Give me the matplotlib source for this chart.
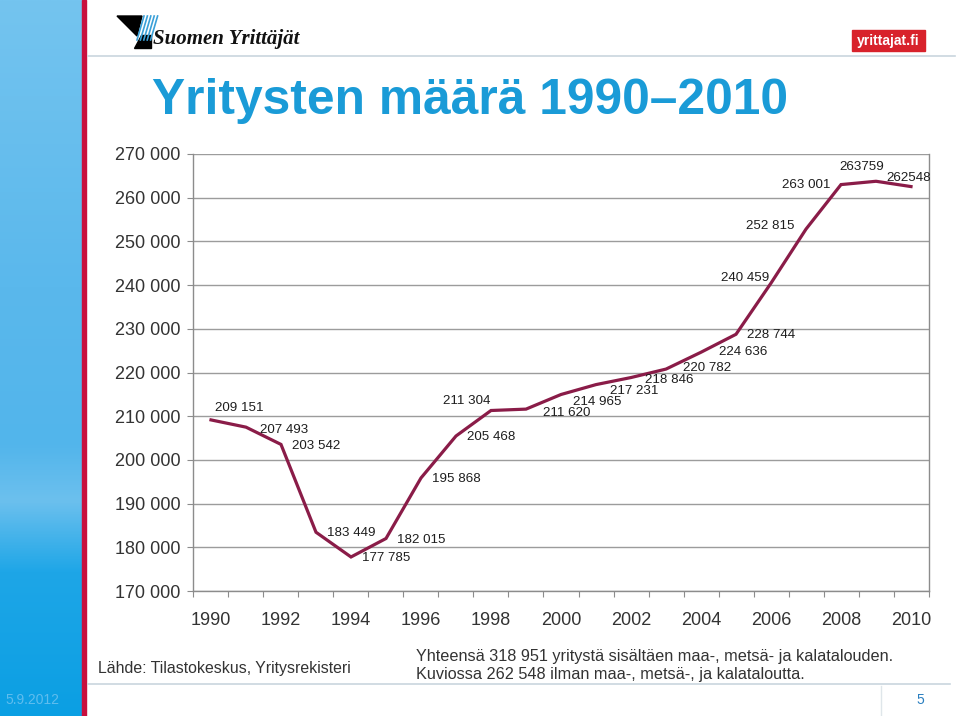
import numpy as np
import matplotlib
matplotlib.use("Agg")
import matplotlib.pyplot as plt
from matplotlib.patches import Polygon, Rectangle
from matplotlib.colors import LinearSegmentedColormap

# ---- data ----
years = list(range(1990, 2011))
values = [209151, 207493, 203542, 183449, 177785, 182015, 195868, 205468,
          211304, 211620, 214965, 217231, 218846, 220782, 224636, 228744,
          240459, 252815, 263001, 263759, 262548]
labels = ["209 151", "207 493", "203 542", "183 449", "177 785", "182 015",
          "195 868", "205 468", "211 304", "211 620", "214 965", "217 231",
          "218 846", "220 782", "224 636", "228 744", "240 459", "252 815",
          "263 001", "263759", "262548"]
# label offsets in pixels (dx, dy up positive)
offsets = [(28, 12), (38, -3), (35, -2), (35, -1), (35, -1), (35, -2),
           (35, -1), (35, -1), (-24, 10), (41, -3.5), (36, -7), (38, -6.5),
           (38, -2.5), (41, 1), (42, 0), (35, -1), (-26, 5), (-36, 3),
           (-35, 0), (-14, 14), (-2, 9)]
ytick_vals = list(range(170000, 270001, 10000))
ytick_labels = ["%d 000" % (v // 1000) for v in ytick_vals]
xtick_years = list(range(1990, 2011, 2))

title = "Yritysten määrä 1990–2010"
source = "Lähde: Tilastokeskus, Yritysrekisteri"
note1 = "Yhteensä 318 951 yritystä sisältäen maa-, metsä- ja kalatalouden."
note2 = "Kuviossa 262 548 ilman maa-, metsä-, ja kalataloutta."

plt.rcParams['font.family'] = ['Liberation Sans', 'DejaVu Sans']

W, H = 960, 716
fig = plt.figure(figsize=(W / 100, H / 100), dpi=100)
fig.patch.set_facecolor("white")

# background axes in pixel coords
bg = fig.add_axes([0, 0, 1, 1])
bg.set_xlim(0, W)
bg.set_ylim(H, 0)
bg.axis("off")
bg.set_zorder(0)

cmap = LinearSegmentedColormap.from_list(
    "strip", [(0.0, "#74c4ef"), (0.40, "#5ab8ec"), (0.62, "#52b5eb"),
              (0.70, "#6cc0ee"), (0.80, "#1ea6e7"), (1.0, "#0b9fe3")])
grad = np.linspace(0, 1, 256).reshape(-1, 1)
bg.imshow(grad, cmap=cmap, extent=[0, 82, H, 0], aspect="auto", zorder=1)
bg.add_patch(Rectangle((82, 0), 4, H, color="#c8103e", zorder=2))
bg.plot([88, 955], [56, 56], color="#c9d6de", lw=1.2, zorder=2)
bg.plot([88, 950], [684, 684], color="#c9d6de", lw=1.2, zorder=2)
bg.plot([881, 881], [686, 716], color="#dfe6ea", lw=1, zorder=2)

# logo
bg.add_patch(Polygon([(117, 16), (142, 16), (137, 36)], closed=True,
                     color="black", zorder=3))
bg.add_patch(Polygon([(141, 35), (151, 35), (151, 48), (134, 48)], closed=True,
                     color="black", zorder=3))
for i in range(5):
    x0 = 144 + i * 3.4
    bg.plot([x0, x0 - 7], [16, 40], color="#3aa0d8", lw=1.2, zorder=3)
bg.text(153, 39, "Suomen Yrittäjät", family=["Liberation Serif", "DejaVu Serif"],
        fontsize=15, fontweight="bold", style="italic", color="#111111",
        va="center", ha="left", zorder=3)
bg.add_patch(Rectangle((852, 30), 73, 21, color="#d8222b", zorder=3))
bg.text(888.5, 40.5, "yrittajat.fi", color="white", fontsize=10,
        fontweight="bold", ha="center", va="center", zorder=4)

bg.text(152, 101, title, fontsize=35.8, fontweight="bold", color="#1a9bd7",
        ha="left", va="center", zorder=3)

bg.text(98, 669, source, fontsize=11.4, color="#333333", ha="left", va="center",
        zorder=3)
bg.text(416, 656, note1, fontsize=11.7, color="#333333", ha="left", va="center",
        zorder=3)
bg.text(416, 675, note2, fontsize=11.7, color="#333333", ha="left", va="center",
        zorder=3)
bg.text(5, 700, "5.9.2012", fontsize=10, color="#5fbdee", ha="left",
        va="center", zorder=3)
bg.text(920, 700, "5", fontsize=10, color="#2a7fc0", ha="center",
        va="center", zorder=3)

# chart axes
ax = fig.add_axes([193 / W, 1 - 591 / H, (929 - 193) / W, (591 - 154) / H])
ax.set_zorder(2)
ax.patch.set_alpha(0)
ax.set_xlim(1989.486, 2010.514)
ax.set_ylim(170000, 270000)

ax.plot(years, values, color="#8a1c48", lw=2.3, zorder=3, solid_joinstyle="miter")

for x, y, lab, (dx, dy) in zip(years, values, labels, offsets):
    ax.annotate(lab, (x, y), xytext=(dx * 0.72, dy * 0.72),
                textcoords="offset points", ha="center", va="center",
                fontsize=9.6, color="#1e1e1e", zorder=4)

ax.set_yticks(ytick_vals)
ax.set_yticklabels(ytick_labels, fontsize=13, color="#333333")
ax.tick_params(axis="y", length=4, color="#8c8c8c", pad=5)
ax.yaxis.grid(True, color="#9c9c9c", lw=1)
ax.set_axisbelow(True)

bounds = [y - 0.5 for y in years] + [years[-1] + 0.5]
ax.set_xticks(bounds)
ax.set_xticklabels([""] * len(bounds))
ax.set_xticks(xtick_years, minor=True)
ax.set_xticklabels([str(y) for y in xtick_years], minor=True, fontsize=13,
                   color="#333333")
ax.tick_params(axis="x", which="major", length=4, color="#8c8c8c", direction="out")
ax.tick_params(axis="x", which="minor", length=0, pad=15)

for s in ["left", "right", "bottom"]:
    ax.spines[s].set_color("#8c8c8c")
    ax.spines[s].set_linewidth(1)
ax.spines["top"].set_visible(False)

fig.savefig("out.png", dpi=100, facecolor="white")
